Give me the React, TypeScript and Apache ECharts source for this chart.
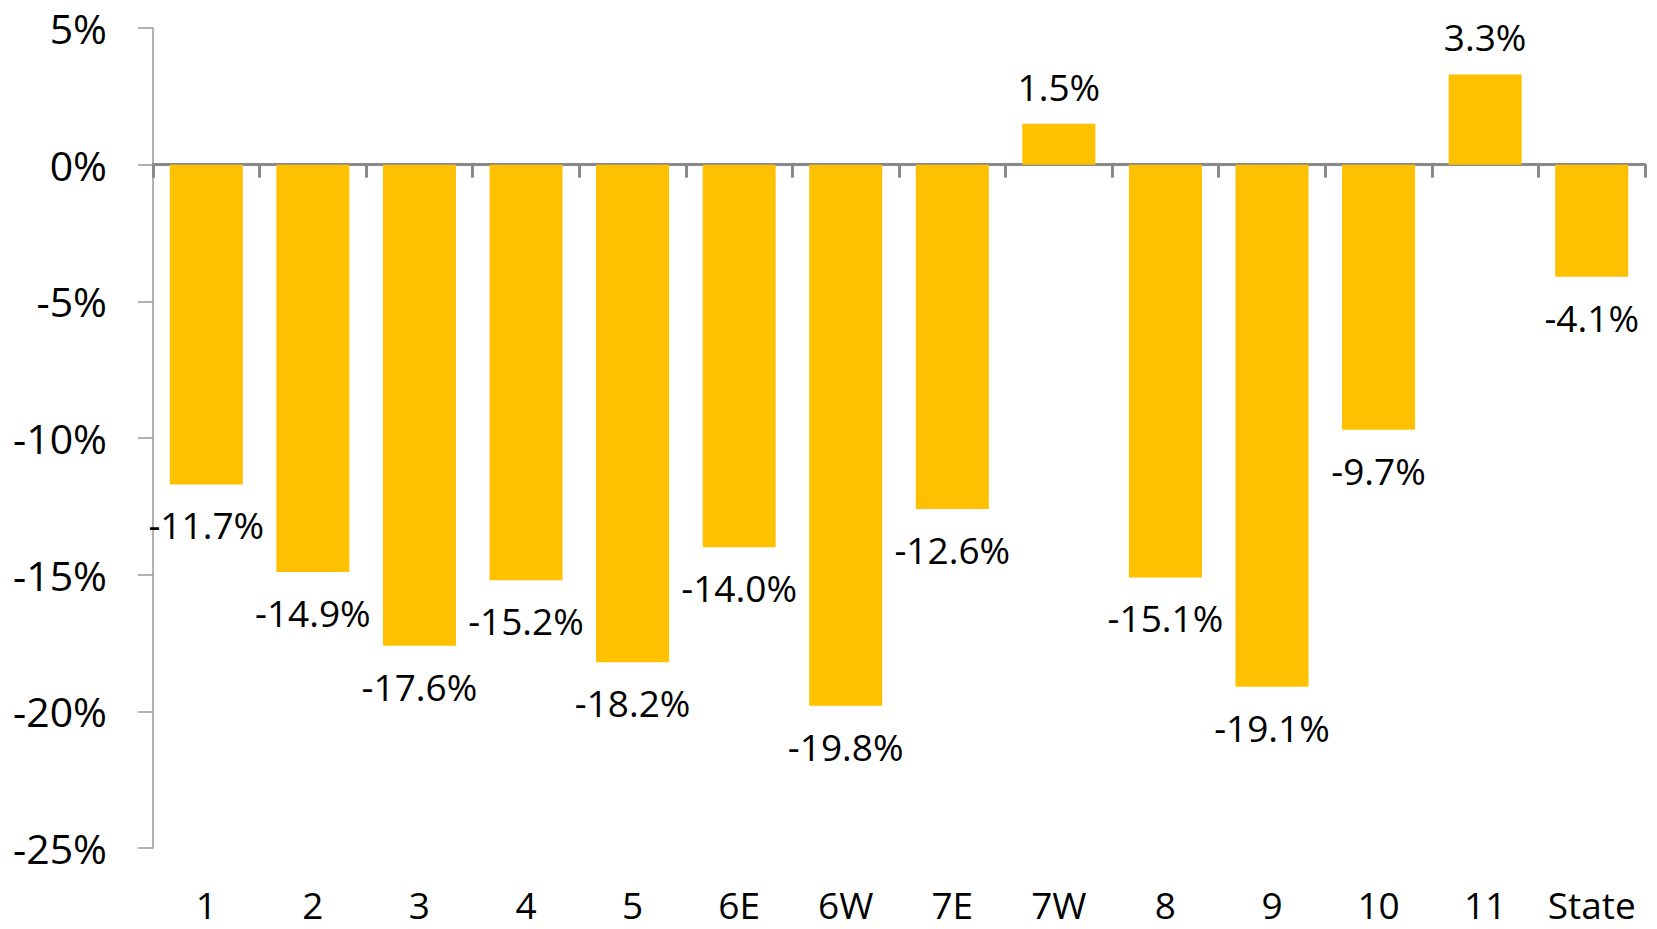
import React, { useEffect, useRef } from "react";
import * as echarts from "echarts";

const categories = ["1", "2", "3", "4", "5", "6E", "6W", "7E", "7W", "8", "9", "10", "11", "State"];
const values = [-11.7, -14.9, -17.6, -15.2, -18.2, -14.0, -19.8, -12.6, 1.5, -15.1, -19.1, -9.7, 3.3, -4.1];
const yTicks = { min: -25, max: 5, interval: 5 };

const FONT = "'Open Sans', sans-serif";

export default function App() {
  const ref = useRef<HTMLDivElement>(null);
  useEffect(() => {
    if (!ref.current) return;
    const chart = echarts.init(ref.current, undefined, { renderer: "svg" });
    const data = values.map((v) => ({
      value: v,
      label: { position: v >= 0 ? "top" : "bottom", distance: v >= 0 ? 19 : 22 },
    }));
    chart.setOption({
      animation: false,
      backgroundColor: "#ffffff",
      grid: { left: 153, right: 12, top: 28, bottom: 81, containLabel: false },
      xAxis: [
        {
          type: "category",
          data: categories,
          boundaryGap: true,
          axisLine: { onZero: true, lineStyle: { color: "#898989", width: 3 } },
          axisTick: { show: true, length: 13, interval: 0, lineStyle: { color: "#898989", width: 3 } },
          axisLabel: { show: false },
          splitLine: { show: false },
        },
        {
          type: "category",
          data: categories,
          position: "bottom",
          axisLine: { show: false, onZero: false },
          axisTick: { show: false },
          axisLabel: {
            show: true,
            interval: 0,
            margin: 38,
            color: "#000",
            fontSize: 37,
            lineHeight: 36,
            fontFamily: FONT,
          },
          splitLine: { show: false },
        },
      ],
      yAxis: {
        type: "value",
        min: yTicks.min,
        max: yTicks.max,
        interval: yTicks.interval,
        axisLine: { show: true, lineStyle: { color: "#999999", width: 1.5 } },
        axisTick: { show: true, inside: false, length: 15, lineStyle: { color: "#999999", width: 1.5 } },
        axisLabel: { margin: 46, color: "#000", fontSize: 41, fontFamily: FONT, formatter: "{value}%" },
        splitLine: { show: false },
      },
      series: [
        {
          type: "bar",
          xAxisIndex: 0,
          data,
          barWidth: 73,
          itemStyle: { color: "#FFC000" },
          label: {
            show: true,
            color: "#000",
            fontSize: 37,
            fontFamily: FONT,
            formatter: (p: any) => p.value.toFixed(1) + "%",
          },
        },
      ],
    });
    return () => chart.dispose();
  }, []);
  return (
    <div
      ref={ref}
      style={{ position: "fixed", left: 0, top: 0, width: 1657, height: 929, background: "#fff" }}
    />
  );
}
